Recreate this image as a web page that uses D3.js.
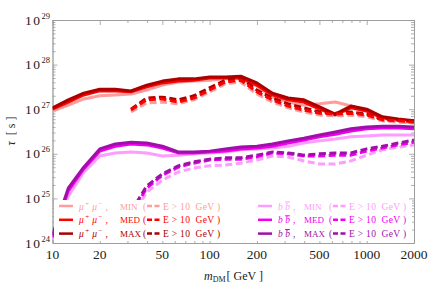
<!DOCTYPE html>
<html>
<head>
<meta charset="utf-8">
<script src="https://cdn.jsdelivr.net/npm/d3@7"></script>
<style>
body { margin: 0; background: #fff; }
text { font-family: "Liberation Serif", "DejaVu Serif", serif; }
</style>
</head>
<body>
<svg id="chart" width="431" height="284"></svg>
<script>
// dark matter mass [GeV]
var mass = [10, 12.6, 15.8, 20, 25.1, 31.6, 39.8, 50.1, 63.1, 79.4, 100, 126, 158, 200, 251, 316, 398, 501, 631, 794, 1000, 1259, 1585, 2000]
// E > 10 GeV curves start at 31.6 GeV
var massE = [31.6, 39.8, 50.1, 63.1, 79.4, 100, 126, 158, 200, 251, 316, 398, 501, 631, 794, 1000, 1259, 1585, 2000]

// log10(tau / s)
var mumu_min = [26.96, 27.09, 27.23, 27.30, 27.32, 27.34, 27.43, 27.54, 27.61, 27.63, 27.65, 27.68, 27.68, 27.52, 27.27, 27.16, 27.09, 27.12, 27.16, 27.07, 26.96, 26.80, 26.74, 26.69]
var mumu_med = [27.00, 27.16, 27.32, 27.41, 27.41, 27.39, 27.50, 27.59, 27.63, 27.65, 27.70, 27.70, 27.70, 27.54, 27.32, 27.21, 27.16, 27.00, 26.87, 27.03, 26.96, 26.80, 26.76, 26.71]
var mumu_max = [27.03, 27.21, 27.36, 27.45, 27.45, 27.41, 27.54, 27.63, 27.68, 27.68, 27.72, 27.72, 27.74, 27.59, 27.36, 27.25, 27.21, 27.05, 26.89, 27.07, 27.00, 26.83, 26.78, 26.74]

var mumu_min_E = [26.94, 27.14, 27.16, 27.12, 27.21, 27.39, 27.57, 27.61, 27.34, 27.16, 27.03, 26.94, 26.87, 26.85, 26.87, 26.83, 26.74, 26.71, 26.69]
var mumu_med_E = [26.98, 27.21, 27.23, 27.16, 27.25, 27.43, 27.61, 27.65, 27.39, 27.21, 27.07, 26.98, 26.91, 26.89, 26.91, 26.87, 26.76, 26.74, 26.71]
var mumu_max_E = [27.00, 27.25, 27.27, 27.21, 27.30, 27.48, 27.65, 27.70, 27.43, 27.25, 27.12, 27.03, 26.94, 26.91, 26.94, 26.89, 26.78, 26.76, 26.74]

var bb_min = [24.07, 25.05, 25.59, 25.95, 26.02, 26.04, 26.02, 25.95, 25.97, 26.00, 26.02, 26.04, 26.09, 26.11, 26.13, 26.17, 26.24, 26.29, 26.33, 26.38, 26.40, 26.42, 26.42, 26.42]
var bb_med = [24.13, 25.17, 25.66, 26.06, 26.17, 26.22, 26.20, 26.13, 26.02, 26.02, 26.04, 26.06, 26.11, 26.13, 26.17, 26.24, 26.31, 26.38, 26.44, 26.51, 26.56, 26.58, 26.58, 26.56]
var bb_max = [24.18, 25.23, 25.70, 26.11, 26.22, 26.26, 26.24, 26.17, 26.04, 26.04, 26.06, 26.11, 26.15, 26.17, 26.22, 26.29, 26.35, 26.42, 26.49, 26.56, 26.60, 26.62, 26.62, 26.60]

var bb_min_E = [24.56, 25.14, 25.41, 25.59, 25.68, 25.73, 25.75, 25.79, 25.86, 25.95, 25.93, 25.84, 25.77, 25.77, 25.84, 25.97, 26.09, 26.15, 26.20]
var bb_med_E = [24.65, 25.23, 25.52, 25.70, 25.79, 25.86, 25.88, 25.88, 25.93, 26.02, 26.00, 25.95, 25.95, 25.97, 25.97, 26.06, 26.13, 26.20, 26.26]
var bb_max_E = [24.70, 25.28, 25.55, 25.73, 25.82, 25.88, 25.91, 25.91, 25.97, 26.04, 26.02, 25.97, 26.00, 26.02, 26.02, 26.11, 26.17, 26.24, 26.31]

var xTicks = [10, 20, 50, 100, 200, 500, 1000, 2000]
var xMinor = [30, 40, 60, 70, 80, 90, 300, 400, 600, 700, 800, 900]
var yExp = [24, 25, 26, 27, 28, 29]

var col = {
    mu_min: "#ff9c9c", mu_med: "#ff0000", mu_max: "#aa0000",
    bb_min: "#ff9cff", bb_med: "#f000f0", bb_max: "#a010a8"
}

var svg = d3.select("#chart")
var pLeft = 52.5, pRight = 414, pTop = 20, pBottom = 243

var x = d3.scaleLog().domain([10, 2000]).range([pLeft, pRight])
var y = d3.scaleLog().domain([1e24, 1e29]).range([pBottom, pTop])

svg.append("clipPath").attr("id", "clip")
    .append("rect").attr("x", pLeft).attr("y", pTop).attr("width", pRight - pLeft).attr("height", pBottom - pTop)

// axes, ticks pointing inwards
var yMinor = []
yExp.slice(0, 5).forEach(function (e) { for (var m = 2; m < 10; m++) yMinor.push(m * Math.pow(10, e)) })
var yMajor = yExp.map(function (e) { return Math.pow(10, e) })

function axis(gen, tx, ty, vals, size) {
    var g = svg.append("g").attr("transform", "translate(" + tx + "," + ty + ")")
        .call(gen.tickValues(vals).tickSizeInner(-size).tickSizeOuter(0).tickFormat(""))
    g.selectAll("path,line").attr("stroke", "#999").attr("stroke-width", 0.8)
    return g
}
axis(d3.axisBottom(x), 0, pBottom, xTicks, 5)
axis(d3.axisBottom(x), 0, pBottom, xMinor, 3)
axis(d3.axisTop(x), 0, pTop, xTicks, 5)
axis(d3.axisTop(x), 0, pTop, xMinor, 3)
axis(d3.axisLeft(y), pLeft, 0, yMajor, 5)
axis(d3.axisLeft(y), pLeft, 0, yMinor, 3)
axis(d3.axisRight(y), pRight, 0, yMajor, 5)
axis(d3.axisRight(y), pRight, 0, yMinor, 3)

// tick labels
svg.selectAll(".xl").data(xTicks).enter().append("text")
    .attr("x", function (d) { return x(d) }).attr("y", 259)
    .attr("text-anchor", "middle").attr("font-size", 13.5).attr("fill", "#222")
    .text(function (d) { return d })

var yl = svg.selectAll(".yl").data(yExp).enter().append("text")
    .attr("x", 50).attr("y", function (d) { return y(Math.pow(10, d)) + 4.5 })
    .attr("text-anchor", "end").attr("fill", "#222")
yl.append("tspan").attr("font-size", 13.5).attr("letter-spacing", 1.5).text("10")
yl.append("tspan").attr("font-size", 8.5).attr("dy", -6).text(function (d) { return d })

// axis titles
var xt = svg.append("text").attr("x", 204).attr("y", 280).attr("font-size", 12).attr("fill", "#222")
xt.append("tspan").attr("font-style", "italic").text("m")
xt.append("tspan").attr("font-size", 8).attr("dy", 2).text("DM")
xt.append("tspan").attr("dy", -2).attr("dx", 1).text("[ GeV ]")

svg.append("text").attr("transform", "translate(15,131) rotate(-90)")
    .attr("text-anchor", "middle").attr("font-size", 12).attr("fill", "#222")
    .style("white-space", "pre")
    .html('<tspan font-style="italic">τ</tspan>  [ s ]')

// curves
var plot = svg.append("g").attr("clip-path", "url(#clip)")
var line = d3.line()
    .x(function (d) { return x(d[0]) })
    .y(function (d) { return y(Math.pow(10, d[1])) })

function curve(ms, vals, color, dashed) {
    plot.append("path")
        .datum(d3.zip(ms, vals))
        .attr("d", line)
        .attr("fill", "none")
        .attr("stroke", color)
        .attr("stroke-width", 3)
        .attr("stroke-linejoin", "round")
        .attr("stroke-dasharray", dashed ? "7,3.5" : null)
}

curve(mass, mumu_min, col.mu_min)
curve(mass, mumu_med, col.mu_med)
curve(mass, mumu_max, col.mu_max)
curve(massE, mumu_min_E, col.mu_min, true)
curve(massE, mumu_max_E, col.mu_max, true)
curve(massE, mumu_med_E, col.mu_med, true)

curve(mass, bb_min, col.bb_min)
curve(mass, bb_med, col.bb_med)
curve(mass, bb_max, col.bb_max)
curve(massE, bb_min_E, col.bb_min, true)
curve(massE, bb_med_E, col.bb_med, true)
curve(massE, bb_max_E, col.bb_max, true)

// legends
svg.append("rect").attr("x", 54).attr("y", 200).attr("width", 190).attr("height", 41).attr("fill", "#fff")
svg.append("rect").attr("x", 252).attr("y", 200).attr("width", 160).attr("height", 41).attr("fill", "#fff")

var legRows = [
    { name: "MIN", mu: col.mu_min, bb: col.bb_min },
    { name: "MED", mu: col.mu_med, bb: col.bb_med },
    { name: "MAX", mu: col.mu_max, bb: col.bb_max }
]

legRows.forEach(function (r, i) {
    var ly = 206 + i * 13.8
    var blocks = [
        { x0: 59, c: r.mu, mu: true, nameX: 61, parX: 84 },
        { x0: 258, c: r.bb, mu: false, nameX: 46, parX: 71 }
    ]
    blocks.forEach(function (b) {
        svg.append("line").attr("x1", b.x0).attr("x2", b.x0 + 14).attr("y1", ly).attr("y2", ly)
            .attr("stroke", b.c).attr("stroke-width", 2.5)
        var t = svg.append("text").attr("x", b.x0 + 20).attr("y", ly + 3.5)
            .attr("font-size", 9.5).attr("fill", b.c).style("white-space", "pre")
        if (b.mu) {
            t.append("tspan").attr("font-style", "italic").text("μ")
            t.append("tspan").attr("font-size", 7).attr("dy", -4).attr("dx", 1.5).text("+")
            t.append("tspan").attr("font-style", "italic").attr("dy", 4).attr("dx", 3).text("μ")
            t.append("tspan").attr("font-size", 7).attr("dy", -4).attr("dx", 1.5).text("−")
            t.append("tspan").attr("dy", 4).attr("dx", 3).text(",")
        } else {
            t.append("tspan").attr("font-style", "italic").text("b ")
            t.append("tspan").attr("font-style", "italic").style("text-decoration", "overline").text("b")
            t.append("tspan").attr("dx", 3).text(",")
        }
        svg.append("text").attr("x", b.x0 + b.nameX).attr("y", ly + 3.5)
            .attr("font-size", 9).attr("fill", b.c).text(r.name)
        var dx = b.x0 + b.parX
        svg.append("text").attr("x", dx).attr("y", ly + 3.5).attr("font-size", 9.5).attr("fill", b.c).text("(")
        svg.append("line").attr("x1", dx + 4).attr("x2", dx + 17).attr("y1", ly).attr("y2", ly)
            .attr("stroke", b.c).attr("stroke-width", 2.5).attr("stroke-dasharray", "5,2.5")
        svg.append("text").attr("x", dx + 20).attr("y", ly + 3.5).attr("font-size", 9.5)
            .attr("fill", b.c).attr("letter-spacing", 0.3).style("white-space", "pre")
            .text("E > 10  GeV )")
    })
})
</script>
</body>
</html>
